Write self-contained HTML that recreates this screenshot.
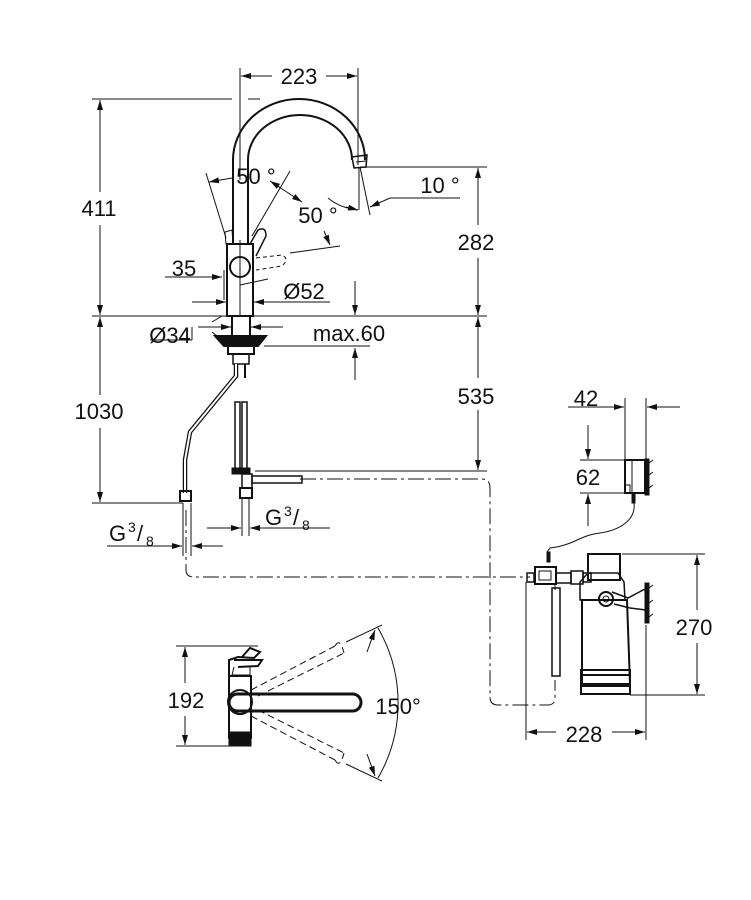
<!DOCTYPE html>
<html><head><meta charset="utf-8"><style>
html,body{margin:0;padding:0;background:#fff}
svg{display:block}
text{font-family:"Liberation Sans",sans-serif;fill:#111}
</style></head><body>
<svg width="751" height="900" viewBox="0 0 751 900" xmlns="http://www.w3.org/2000/svg">
<defs>
<marker id="a" viewBox="0 0 10 6" refX="10" refY="3" markerWidth="10" markerHeight="6" orient="auto-start-reverse" markerUnits="userSpaceOnUse"><path d="M0,0 L10,3 L0,6z" fill="#111"/></marker>
</defs>
<g stroke="#111" fill="none" stroke-width="1">
<!-- 223 -->
<line x1="240" y1="68" x2="240" y2="180"/><line x1="358" y1="68" x2="358" y2="165"/>
<line x1="272" y1="76" x2="241" y2="76" marker-end="url(#a)"/>
<line x1="326" y1="76" x2="357" y2="76" marker-end="url(#a)"/>
<!-- 411 -->
<line x1="92" y1="99" x2="232" y2="99"/><line x1="248" y1="99" x2="260" y2="99"/>
<line x1="100" y1="100" x2="100" y2="192" marker-start="url(#a)"/>
<line x1="100" y1="225" x2="100" y2="315" marker-end="url(#a)"/>
<line x1="92" y1="316" x2="487" y2="316"/>
<!-- 1030 -->
<line x1="100" y1="317" x2="100" y2="395" marker-start="url(#a)"/>
<line x1="100" y1="428" x2="100" y2="502" marker-end="url(#a)"/>
<line x1="92" y1="503" x2="183" y2="503"/>
<!-- 282 / 535 -->
<line x1="360" y1="167" x2="487" y2="167"/>
<line x1="478" y1="168" x2="478" y2="225" marker-start="url(#a)"/>
<line x1="478" y1="258" x2="478" y2="315" marker-end="url(#a)"/>
<line x1="478" y1="317" x2="478" y2="378" marker-start="url(#a)"/>
<line x1="478" y1="410" x2="478" y2="470" marker-end="url(#a)"/>
<line x1="255" y1="471" x2="487" y2="471"/>
<!-- spout -->
<path d="M233,244 L233,160 A66,61 0 0 1 365,160" stroke-width="2"/>
<path d="M248,244 L248,160 A52,45 0 0 1 352,160" stroke-width="2"/>
<path d="M352,157 L367,155 L366,167 L354,168 Z" stroke-width="1.5"/>
<line x1="356" y1="162" x2="366" y2="161"/>
<line x1="360" y1="167" x2="370" y2="215"/><line x1="359" y1="167" x2="359" y2="210"/>
<path d="M328,198 Q340,208 358,210" /><line x1="346" y1="207" x2="358" y2="210" marker-end="url(#a)"/>
<line x1="460" y1="198" x2="390" y2="198"/><line x1="390" y1="198" x2="370" y2="207" marker-end="url(#a)"/>
<!-- lever angles -->
<line x1="206" y1="173" x2="226" y2="238"/>
<line x1="290" y1="171" x2="252" y2="236"/>
<line x1="232" y1="178" x2="209" y2="182" marker-end="url(#a)"/>
<line x1="273" y1="183" x2="302" y2="202" marker-end="url(#a)"/>
<line x1="281" y1="188" x2="270" y2="181" marker-end="url(#a)"/>
<line x1="324" y1="231" x2="330" y2="245" marker-end="url(#a)"/>
<line x1="290" y1="253" x2="340" y2="246"/>
<path d="M225,232 L232,230 L233,244 L226,244 Z"/>
<path d="M250,244 L258,230 Q266,226 266,236 L256,256" stroke-width="1.5"/>
<path d="M256,258 L282,255 Q290,259 282,266 L256,270" stroke-dasharray="4,3"/>
<!-- body -->
<rect x="227" y="244" width="26" height="72" stroke-width="2"/>
<line x1="240" y1="240" x2="240" y2="316"/>
<circle cx="240" cy="267" r="10" stroke-width="2"/>
<line x1="240" y1="285" x2="268" y2="279"/>
<!-- 35 / 52 -->
<line x1="165" y1="277" x2="222" y2="277" marker-end="url(#a)"/>
<line x1="224" y1="270" x2="224" y2="300"/>
<line x1="192" y1="302" x2="226" y2="302" marker-end="url(#a)"/>
<line x1="330" y1="302" x2="254" y2="302" marker-end="url(#a)"/>
<line x1="355" y1="281" x2="355" y2="315" marker-end="url(#a)"/>
<!-- shank / max60 -->
<rect x="232" y="316" width="18" height="22" stroke-width="2"/>
<path d="M215,336 L266,336 L258,346 L224,346 Z" stroke-width="2" fill="#111"/>
<rect x="228" y="346" width="26" height="8" stroke-width="2"/>
<rect x="233" y="354" width="16" height="10" stroke-width="1.5"/>
<line x1="198" y1="327" x2="231" y2="327" marker-end="url(#a)"/>
<line x1="283" y1="327" x2="251" y2="327" marker-end="url(#a)"/>
<line x1="150" y1="340" x2="192" y2="340"/><line x1="192" y1="340" x2="192" y2="327"/>
<line x1="212" y1="322" x2="222" y2="316"/><line x1="212" y1="332" x2="222" y2="340"/>
<line x1="264" y1="346" x2="370" y2="346"/>
<line x1="355" y1="380" x2="355" y2="348" marker-end="url(#a)"/>
<!-- hoses -->
<path d="M236,364 L236,376 L190,432 L185,460 L185,493" stroke-width="4.5"/>
<path d="M236,364 L236,376 L190,432 L185,460 L185,493" stroke="#fff" stroke-width="2"/>
<path d="M245,364 L245,378" stroke-width="2"/>
<rect x="235" y="402" width="5" height="68" stroke-width="1.5"/>
<rect x="242" y="402" width="5" height="68" stroke-width="1.5"/>
<rect x="232" y="468" width="18" height="6" fill="#111"/>
<rect x="180" y="491" width="11" height="10" stroke-width="2"/>
<rect x="242" y="474" width="10" height="14" stroke-width="1.5"/>
<rect x="252" y="476" width="50" height="7" stroke-width="1.5"/>
<rect x="240" y="488" width="12" height="10" stroke-width="2"/>
<line x1="183" y1="503" x2="183" y2="556"/><line x1="191" y1="503" x2="191" y2="556"/>
<line x1="242" y1="498" x2="242" y2="536"/><line x1="249" y1="498" x2="249" y2="536"/>
<line x1="107" y1="546" x2="182" y2="546" marker-end="url(#a)"/>
<line x1="223" y1="546" x2="192" y2="546" marker-end="url(#a)"/>
<line x1="207" y1="528" x2="241" y2="528" marker-end="url(#a)"/>
<line x1="330" y1="528" x2="250" y2="528" marker-end="url(#a)"/>
<!-- dashed lines -->
<path d="M300,479 L482,479 Q490,479 490,488 L490,697 Q490,705 498,705 L548,705 Q555,705 555,697 L555,680" stroke-dasharray="16,4,3,4"/>
<path d="M186,510 L186,570 Q186,577 194,577 L530,577" stroke-dasharray="16,4,3,4"/>
<!-- right: 42 / 62 -->
<line x1="625" y1="398" x2="625" y2="460"/><line x1="646" y1="398" x2="646" y2="460"/>
<line x1="568" y1="407" x2="624" y2="407" marker-end="url(#a)"/>
<line x1="680" y1="407" x2="647" y2="407" marker-end="url(#a)"/>
<line x1="580" y1="460" x2="625" y2="460"/><line x1="580" y1="493" x2="625" y2="493"/>
<line x1="588" y1="425" x2="588" y2="459" marker-end="url(#a)"/>
<line x1="588" y1="526" x2="588" y2="494" marker-end="url(#a)"/>
<rect x="625" y="460" width="20" height="33" stroke-width="2"/>
<line x1="632" y1="460" x2="632" y2="493"/>
<rect x="625" y="485" width="5" height="8"/>
<rect x="645" y="459" width="4" height="36" fill="#111"/>
<line x1="649" y1="463" x2="653" y2="460"/><line x1="649" y1="475" x2="653" y2="472"/><line x1="649" y1="488" x2="653" y2="485"/>
<rect x="632" y="493" width="3" height="10" fill="#111"/>
<path d="M634,503 C636,520 620,530 600,533 C580,535 575,545 550,548 L547,552"/>
<!-- valve -->
<rect x="547" y="552" width="3" height="10" fill="#111"/>
<rect x="527" y="573" width="7" height="9" stroke-width="1.5"/>
<rect x="535" y="567" width="21" height="17" stroke-width="2"/>
<rect x="539" y="571" width="12" height="9"/>
<rect x="556" y="573" width="15" height="10" stroke-width="1.5"/>
<rect x="571" y="571" width="12" height="13" stroke-width="1.5"/>
<rect x="583" y="573" width="8" height="9" stroke-width="1.5"/>
<rect x="552" y="588" width="8" height="88" stroke-width="1.5"/>
<line x1="555" y1="584" x2="555" y2="590"/>
<!-- filter -->
<rect x="588" y="554" width="32" height="26" stroke-width="2"/>
<path d="M588,573 L618,573 L624,582 L625,600 L580,600 L580,582 Z" stroke-width="1.5"/>
<path d="M582,600 L627,600 L630,684 L582,684 Z" stroke-width="2"/>
<rect x="581" y="670" width="49" height="16" stroke-width="2"/>
<line x1="581" y1="675" x2="630" y2="675" stroke-width="2"/>
<rect x="581" y="684" width="49" height="10" stroke-width="2"/>
<circle cx="606" cy="599" r="7" stroke-width="2"/><circle cx="606" cy="599" r="3"/>
<path d="M612,592 L628,598 L645,589 L646,610 L630,608 L614,604" stroke-width="1.5"/>
<rect x="645" y="583" width="4" height="40" fill="#111"/>
<line x1="649" y1="588" x2="653" y2="585"/><line x1="649" y1="603" x2="653" y2="600"/><line x1="649" y1="617" x2="653" y2="614"/>
<!-- 270 / 228 -->
<line x1="622" y1="554" x2="705" y2="554"/><line x1="630" y1="695" x2="705" y2="695"/>
<line x1="697" y1="555" x2="697" y2="610" marker-start="url(#a)"/>
<line x1="697" y1="643" x2="697" y2="694" marker-end="url(#a)"/>
<line x1="526" y1="582" x2="526" y2="740"/><line x1="646" y1="625" x2="646" y2="740"/>
<line x1="527" y1="732" x2="556" y2="732" marker-start="url(#a)"/>
<line x1="612" y1="732" x2="645" y2="732" marker-end="url(#a)"/>
<!-- top view -->
<line x1="176" y1="646" x2="258" y2="646"/><line x1="176" y1="746" x2="230" y2="746"/>
<line x1="185" y1="647" x2="185" y2="683" marker-start="url(#a)"/>
<line x1="185" y1="716" x2="185" y2="745" marker-end="url(#a)"/>
<rect x="229" y="676" width="22" height="62" stroke-width="2"/>
<rect x="229" y="732" width="22" height="14" fill="#111"/>
<path d="M229,676 L229,660 L238,657 L254,658 L260,652 L250,648 L242,657" stroke-width="2"/>
<path d="M234,660 L262,660 L258,666 L238,667" stroke-width="2"/>
<path d="M234,667 L232,675 L250,675 L250,667"/>
<rect x="229" y="694" width="132" height="17" rx="8.5" stroke-width="3"/>
<circle cx="240" cy="702" r="12" stroke-width="2"/>
<g stroke-dasharray="7,4">
<path d="M251,690 L335,646 M258,696 L344,653"/>
<path d="M251,716 L335,760 M258,710 L344,753"/>
<path d="M335,646 Q340,637 344,653"/><path d="M335,760 Q340,769 344,753"/>
</g>
<line x1="346" y1="642" x2="382" y2="625"/><line x1="346" y1="764" x2="382" y2="781"/>
<path d="M378,628 A150,150 0 0 1 378,778"/>
<line x1="367" y1="652" x2="375" y2="630" marker-end="url(#a)"/>
<line x1="367" y1="754" x2="375" y2="776" marker-end="url(#a)"/>
</g>
<g font-size="22" text-anchor="middle">
<text x="299" y="84">223</text>
<text x="99" y="216">411</text>
<text x="99" y="419">1030</text>
<text x="476" y="250">282</text>
<text x="476" y="404">535</text>
<text x="256" y="184">50 °</text>
<text x="318" y="223">50 °</text>
<text x="440" y="193">10 °</text>
<text x="184" y="276">35</text>
<text x="304" y="299">Ø52</text>
<text x="170" y="343">Ø34</text>
<text x="349" y="341">max.60</text>
<text x="586" y="406">42</text>
<text x="588" y="485">62</text>
<text x="694" y="635">270</text>
<text x="584" y="742">228</text>
<text x="186" y="708">192</text>
<text x="398" y="714">150°</text>
</g>
<g font-size="22">
<text x="109" y="541">G</text><text x="128" y="532" font-size="14">3</text><text x="137" y="541">/</text><text x="146" y="546" font-size="14">8</text>
<text x="265" y="525">G</text><text x="284" y="516" font-size="14">3</text><text x="293" y="525">/</text><text x="302" y="530" font-size="14">8</text>
</g>
</svg>
</body></html>
